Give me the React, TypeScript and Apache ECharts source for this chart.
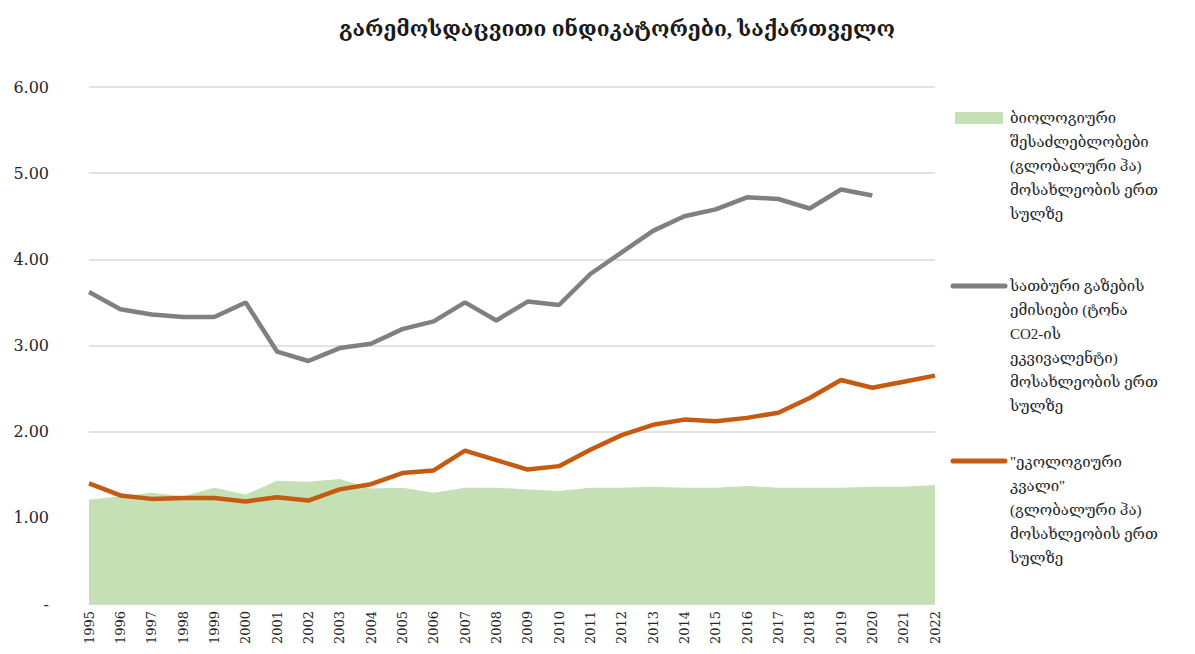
import React, { useEffect, useRef } from "react";
import * as echarts from "echarts";

const years = ["1995","1996","1997","1998","1999","2000","2001","2002","2003","2004","2005","2006","2007","2008","2009","2010","2011","2012","2013","2014","2015","2016","2017","2018","2019","2020","2021","2022"];

const biocapacity = [1.21,1.25,1.29,1.25,1.35,1.27,1.43,1.42,1.45,1.34,1.35,1.29,1.35,1.35,1.33,1.31,1.35,1.35,1.36,1.35,1.35,1.37,1.35,1.35,1.35,1.36,1.36,1.38];
const ghgEmissions = [3.62,3.42,3.36,3.33,3.33,3.50,2.93,2.82,2.97,3.02,3.19,3.28,3.50,3.29,3.51,3.47,3.83,4.08,4.33,4.50,4.58,4.72,4.70,4.59,4.81,4.74,null,null];
const ecoFootprint = [1.40,1.26,1.22,1.23,1.23,1.19,1.24,1.20,1.33,1.39,1.52,1.55,1.78,1.67,1.56,1.60,1.79,1.96,2.08,2.14,2.12,2.16,2.22,2.39,2.60,2.51,2.58,2.65];

const title = "გარემოსდაცვითი ინდიკატორები, საქართველო";
const seriesNames = [
  "ბიოლოგიური\nშესაძლებლობები\n(გლობალური ჰა)\nმოსახლეობის ერთ\nსულზე",
  "სათბური გაზების\nემისიები (ტონა\nCO2-ის\nეკვივალენტი)\nმოსახლეობის ერთ\nსულზე",
  "\"ეკოლოგიური\nკვალი\"\n(გლობალური ჰა)\nმოსახლეობის ერთ\nსულზე",
];

const GREEN = "#c5e0b4";
const GRAY = "#808080";
const ORANGE = "#c55a11";
const FONT = "'Liberation Serif', 'DejaVu Serif', serif";
const NUMFONT = "'DejaVu Serif', serif";

export default function App() {
  const ref = useRef<HTMLDivElement>(null);
  useEffect(() => {
    if (!ref.current) return;
    const chart = echarts.init(ref.current, null, { renderer: "svg" });
    const legendText = (text: string, top: number) => ({
      type: "text",
      left: 1010,
      top,
      style: { text, font: `15px ${FONT}`, fill: "#262626", lineHeight: 24 },
    });
    chart.setOption({
      animation: false,
      backgroundColor: "#ffffff",
      title: {
        text: title,
        left: 612,
        top: 13,
        textAlign: "center",
        textStyle: { fontFamily: FONT, fontSize: 21, fontWeight: "bold", color: "#1a1a1a" },
      },
      grid: { left: 89, right: 260, top: 87, bottom: 50, containLabel: false },
      xAxis: {
        type: "category",
        data: years,
        boundaryGap: false,
        axisLine: { show: true, lineStyle: { color: "#d9d9d9", width: 1 } },
        axisTick: { show: false },
        axisLabel: { rotate: 90, fontFamily: NUMFONT, fontSize: 13, color: "#262626", margin: 7, interval: 0 },
        splitLine: { show: false },
      },
      yAxis: {
        type: "value",
        min: 0,
        max: 6,
        interval: 1,
        axisLine: { show: false },
        axisTick: { show: false },
        axisLabel: {
          fontFamily: NUMFONT,
          fontSize: 16,
          color: "#262626",
          margin: 40,
          formatter: (v: number) => (v === 0 ? "-" : v.toFixed(2)),
        },
        splitLine: { show: true, lineStyle: { color: "#d9d9d9", width: 1.5 } },
      },
      series: [
        {
          name: seriesNames[0],
          type: "line",
          data: biocapacity,
          symbol: "none",
          lineStyle: { width: 0 },
          areaStyle: { color: GREEN, opacity: 1 },
          itemStyle: { color: GREEN },
          z: 1,
        },
        {
          name: seriesNames[1],
          type: "line",
          data: ghgEmissions,
          symbol: "none",
          lineStyle: { width: 4.5, color: GRAY },
          itemStyle: { color: GRAY },
          z: 3,
        },
        {
          name: seriesNames[2],
          type: "line",
          data: ecoFootprint,
          symbol: "none",
          lineStyle: { width: 4.5, color: ORANGE },
          itemStyle: { color: ORANGE },
          z: 4,
        },
      ],
      graphic: [
        { type: "rect", left: 955, top: 112, shape: { width: 48, height: 12 }, style: { fill: GREEN } },
        legendText(seriesNames[0], 106),
        { type: "line", shape: { x1: 953, y1: 286, x2: 1005, y2: 286 }, style: { stroke: GRAY, lineWidth: 5, lineCap: "round" } },
        legendText(seriesNames[1], 274),
        { type: "line", shape: { x1: 953, y1: 461, x2: 1005, y2: 461 }, style: { stroke: ORANGE, lineWidth: 5, lineCap: "round" } },
        legendText(seriesNames[2], 450),
      ],
    });
    return () => chart.dispose();
  }, []);
  return (
    <div
      ref={ref}
      style={{ position: "fixed", left: 0, top: 0, width: 1195, height: 654, background: "#fff" }}
    />
  );
}
